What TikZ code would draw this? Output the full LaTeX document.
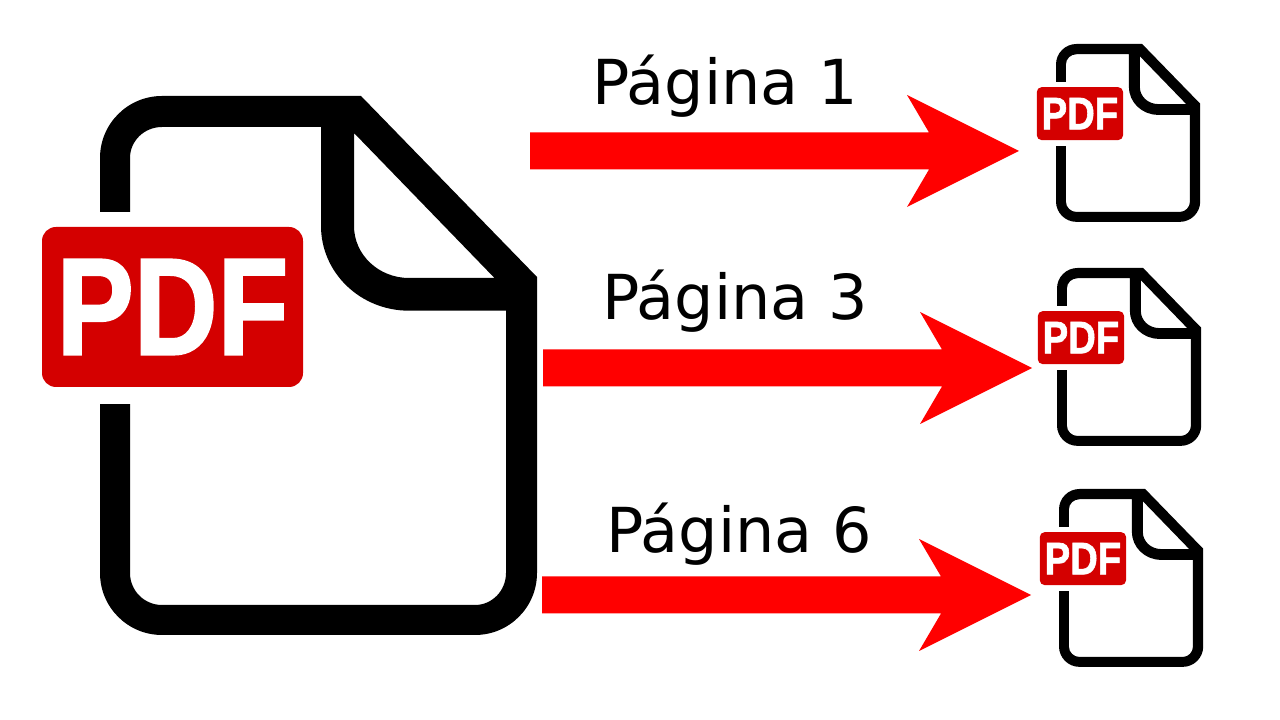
\documentclass[tikz,border=0pt]{standalone}
\usepackage{fontspec}
\setmainfont{DejaVu Sans}
\newfontfamily\badgefont[BoldFeatures={FakeBold=1.6}]{Liberation Sans}
\usepackage{tikz}
\usetikzlibrary{positioning}
\definecolor{pdfred}{HTML}{D40000}
\tikzset{
  pagelabel/.style={anchor=base,font=\fontsize{62}{62}\selectfont},
  pdfbadge/.style={fill=pdfred,text=white,inner sep=0pt,minimum width=261pt,minimum height=160pt,
    rounded corners=#1*14pt,font=\badgefont\bfseries\fontsize{138}{138}\selectfont},
  pics/pdficon/.style={code={
    % Sheet outline with the folded corner cut out
    \fill[black,even odd rule]
      (0,-62) arc[start angle=180,end angle=90,radius=62] -- (261,0) -- (437,-181) -- (437,-477)
      arc[start angle=0,end angle=-90,radius=62] -- (62,-539)
      arc[start angle=270,end angle=180,radius=62] -- cycle
      (30,-62) arc[start angle=180,end angle=90,x radius=32,y radius=31] -- (221,-31) -- (221,-130)
      arc[start angle=180,end angle=270,x radius=88,y radius=84.7] -- (406,-214.7) -- (406,-477)
      arc[start angle=0,end angle=-90,x radius=31,y radius=32] -- (62,-509)
      arc[start angle=270,end angle=180,radius=32] -- cycle
      (254,-37) -- (394.5,-182) -- (309,-182)
      arc[start angle=270,end angle=180,x radius=55,y radius=52] -- cycle;
    \fill[white] (-10,-116) rectangle (40,-308);
    \node[pdfbadge=#1,transform shape] (badge) at (72.5,-211) {\scalebox{.84}[1]{PDF}};
  }},
  pics/redarrow/.style={code={
    \fill[red] (0,18.5) -- (399,18.5) -- (377,56) -- (489,0) -- (377,-56) -- (399,-18.5) -- (0,-18.5) -- cycle;
  }}
}
\begin{document}
\begin{tikzpicture}[x=1pt,y=1pt]
  \useasboundingbox (0,0) rectangle (1280,720);

  % Whole document
  \pic (source) at (100,624) {pdficon=1};

  % One arrow, label and small icon per extracted page
  \foreach \n/\lx/\ly/\ax/\ay/\ix/\iy in {1/725/615/530/569/1056/676, 3/735/400/543/352/1057/452, 6/739/167/542/125/1059/231} {
    \pic (arrow\n) at (\ax,\ay) {redarrow};
    \node[pagelabel] (label\n) at (\lx,\ly) {Página \n};
    \pic[scale=.33] (page\n) at (\ix,\iy) {pdficon=.33};
  }
\end{tikzpicture}
\end{document}
